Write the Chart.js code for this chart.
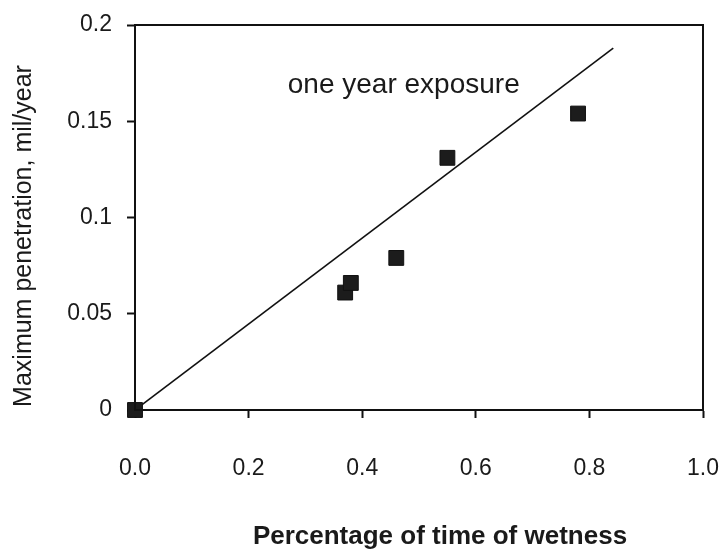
<!DOCTYPE html>
<html>
<head>
<meta charset="utf-8">
<script src="https://cdn.jsdelivr.net/npm/chart.js@4.4.0/dist/chart.umd.min.js"></script>
<style>
  html, body { margin: 0; padding: 0; background: #fff; }
  #wrap { width: 723px; height: 549px; position: relative; }
</style>
</head>
<body>
<div id="wrap"><canvas id="chart"></canvas></div>
<script>
// measured points (time of wetness fraction, max penetration mil/year)
const wetness = [0.0, 0.37, 0.38, 0.46, 0.55, 0.78];
const penetration = [0.0, 0.061, 0.066, 0.079, 0.131, 0.154];

// fitted line end points
const fitX = [0.0, 0.842];
const fitY = [0.0, 0.188];

const xTicks = [0, 0.2, 0.4, 0.6, 0.8, 1.0];
const xTickLabels = ['0.0', '0.2', '0.4', '0.6', '0.8', '1.0'];
const yTicks = [0, 0.05, 0.1, 0.15, 0.2];
const yTickLabels = ['0', '0.05', '0.1', '0.15', '0.2'];

const annotationText = 'one year exposure';
const annotationAt = { x: 0.269, y: 0.1647 };
const xTitle = 'Percentage of time of wetness';
const yTitle = 'Maximum penetration, mil/year';

const FONT = "'Liberation Sans', Arial, sans-serif";

// box around the plot, the label inside it and the two axis titles
const framePlugin = {
    id: 'frame',
    afterDatasetsDraw(chart) {
        const { ctx, chartArea: a, scales } = chart;
        ctx.save();
        ctx.strokeStyle = '#111';
        ctx.lineWidth = 2;
        ctx.strokeRect(a.left, a.top, a.right - a.left, a.bottom - a.top);

        ctx.fillStyle = '#1a1a1a';
        ctx.font = '28px ' + FONT;
        ctx.textAlign = 'left';
        ctx.textBaseline = 'alphabetic';
        ctx.fillText(annotationText, scales.x.getPixelForValue(annotationAt.x), scales.y.getPixelForValue(annotationAt.y));

        ctx.font = 'bold 26px ' + FONT;
        ctx.textAlign = 'center';
        ctx.textBaseline = 'middle';
        ctx.fillText(xTitle, 440, 537);

        ctx.font = '25px ' + FONT;
        ctx.translate(24, 236);
        ctx.rotate(-Math.PI / 2);
        ctx.fillText(yTitle, 0, 0);
        ctx.restore();
    }
};

const ctx = document.getElementById('chart').getContext('2d');
new Chart(ctx, {
    type: 'scatter',
    data: {
        datasets: [{
            label: 'measured',
            data: wetness.map((x, i) => ({ x: x, y: penetration[i] })),
            pointStyle: 'rect',
            pointRadius: 10.5,
            backgroundColor: '#1c1c1c',
            borderColor: '#111',
            borderWidth: 1,
            clip: false,
            order: 1
        }, {
            type: 'line',
            label: 'fit',
            data: fitX.map((x, i) => ({ x: x, y: fitY[i] })),
            borderColor: '#111',
            borderWidth: 1.6,
            pointRadius: 0,
            fill: false,
            order: 2
        }]
    },
    options: {
        responsive: true,
        maintainAspectRatio: false,
        animation: false,
        layout: { padding: { top: 25, right: 20, left: 0, bottom: 0 } },
        plugins: {
            legend: { display: false },
            tooltip: { enabled: false }
        },
        scales: {
            x: {
                type: 'linear',
                min: 0,
                max: 1.0,
                afterBuildTicks: (scale) => { scale.ticks = xTicks.map(v => ({ value: v })); },
                afterFit: (scale) => {
                    scale.height = 139;
                    scale.paddingLeft = 0;
                    scale.paddingRight = 0;
                },
                grid: { display: true, drawOnChartArea: false, drawTicks: true, tickLength: 8, color: '#111', tickWidth: 2 },
                border: { display: true, color: '#111', width: 2 },
                ticks: {
                    color: '#1a1a1a',
                    font: { family: FONT, size: 23 },
                    padding: 37,
                    maxRotation: 0,
                    callback: (v) => xTickLabels[xTicks.indexOf(v)] ?? ''
                }
            },
            y: {
                type: 'linear',
                min: 0,
                max: 0.2,
                afterBuildTicks: (scale) => { scale.ticks = yTicks.map(v => ({ value: v })); },
                afterFit: (scale) => {
                    scale.width = 135;
                    scale.paddingTop = 0;
                    scale.paddingBottom = 0;
                },
                grid: { display: true, drawOnChartArea: false, drawTicks: true, tickLength: 8, color: '#111', tickWidth: 2 },
                border: { display: true, color: '#111', width: 2 },
                ticks: {
                    color: '#1a1a1a',
                    font: { family: FONT, size: 23 },
                    padding: 15,
                    callback: (v) => yTickLabels[yTicks.indexOf(v)] ?? ''
                }
            }
        }
    },
    plugins: [framePlugin]
});
</script>
</body>
</html>
